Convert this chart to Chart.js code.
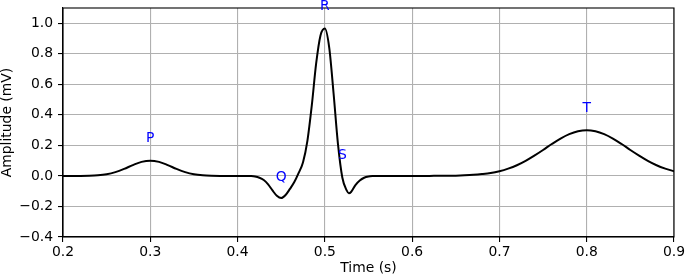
<!DOCTYPE html>
<html lang="en">
<head>
    <meta charset="UTF-8">
    <title>ECG Waveform</title>
    <style>
        html, body { margin: 0; padding: 0; background: #ffffff; }
        #ecgChart { display: block; }
    </style>
</head>
<body>
    <canvas id="ecgChart" width="685" height="278"></canvas>

    <script src="https://cdn.jsdelivr.net/npm/chart.js"></script>
    <script>
        // Time samples (s) and amplitude (mV)
        const times = [
            0.20, 0.21, 0.22, 0.23, 0.24, 0.25, 0.26, 0.27, 0.28, 0.29,
            0.30, 0.31, 0.32, 0.33, 0.34, 0.35, 0.36, 0.37, 0.38, 0.39,
            0.40, 0.41, 0.415, 0.42, 0.425, 0.43, 0.435, 0.44, 0.445, 0.45,
            0.455, 0.46, 0.465, 0.47, 0.475, 0.48, 0.485, 0.49, 0.495, 0.50,
            0.505, 0.51, 0.515, 0.52, 0.525, 0.5275, 0.53, 0.535, 0.54, 0.545,
            0.55, 0.555, 0.56, 0.57, 0.58, 0.59, 0.60, 0.61, 0.62, 0.63,
            0.64, 0.65, 0.66, 0.67, 0.68, 0.69, 0.70, 0.71, 0.72, 0.73,
            0.74, 0.75, 0.76, 0.77, 0.78, 0.79, 0.80, 0.81, 0.82, 0.83,
            0.84, 0.85, 0.86, 0.87, 0.88, 0.89, 0.90
        ];
        const amplitude = [
            0.000, 0.000, 0.000, 0.001, 0.004, 0.011, 0.025, 0.046, 0.071, 0.092,
            0.100, 0.092, 0.071, 0.046, 0.025, 0.011, 0.004, 0.001, 0.000, 0.000,
            0.000, 0.000, -0.001, -0.004, -0.012, -0.027, -0.055, -0.095, -0.130, -0.145,
            -0.125, -0.085, -0.040, 0.020, 0.090, 0.230, 0.460, 0.735, 0.920, 0.965,
            0.840, 0.540, 0.210, -0.010, -0.095, -0.113, -0.105, -0.060, -0.030, -0.012,
            -0.004, -0.001, 0.000, 0.000, 0.000, 0.000, 0.000, 0.000, 0.000, 0.001,
            0.001, 0.002, 0.004, 0.007, 0.012, 0.019, 0.031, 0.048, 0.070, 0.099,
            0.133, 0.170, 0.209, 0.245, 0.274, 0.293, 0.300, 0.293, 0.274, 0.245,
            0.209, 0.170, 0.133, 0.099, 0.070, 0.048, 0.031
        ];

        // Wave annotations
        const waveNames = ['P', 'Q', 'R', 'S', 'T'];
        const waveTimes = [0.30, 0.45, 0.50, 0.52, 0.80];
        const waveLabelAmps = [0.20, -0.05, 1.07, 0.09, 0.40];

        // Axis ticks
        const xTicks = [0.2, 0.3, 0.4, 0.5, 0.6, 0.7, 0.8, 0.9];
        const yTicks = [-0.4, -0.2, 0.0, 0.2, 0.4, 0.6, 0.8, 1.0];

        const fontFamily = '"DejaVu Sans", sans-serif';
        const fontSize = 13.9;

        const fmt = v => v.toFixed(1).replace('-', '\u2212');

        // keep the plot box where the layout padding puts it
        const noScalePadding = s => {
            s.paddingTop = 0;
            s.paddingBottom = 0;
            s.paddingLeft = 0;
            s.paddingRight = 0;
        };

        // frame on all four sides + wave letters
        const annotate = {
            id: 'annotate',
            afterDraw(chart) {
                const ctx = chart.ctx;
                const a = chart.chartArea;
                const xs = chart.scales.x, ys = chart.scales.y;
                ctx.save();
                ctx.strokeStyle = '#000000';
                ctx.lineWidth = 1.1;
                ctx.strokeRect(a.left, a.top, a.right - a.left, a.bottom - a.top);

                ctx.fillStyle = '#0000ff';
                ctx.font = fontSize + 'px ' + fontFamily;
                ctx.textAlign = 'center';
                ctx.textBaseline = 'alphabetic';
                waveNames.forEach((name, i) => {
                    ctx.fillText(name, xs.getPixelForValue(waveTimes[i]), ys.getPixelForValue(waveLabelAmps[i]) - 3);
                });
                ctx.restore();
            }
        };

        new Chart(document.getElementById('ecgChart').getContext('2d'), {
            type: 'line',
            data: {
                datasets: [{
                    data: times.map((t, i) => ({ x: t, y: amplitude[i] })),
                    borderColor: '#000000',
                    borderWidth: 2,
                    pointRadius: 0,
                    fill: false,
                    cubicInterpolationMode: 'monotone'
                }]
            },
            options: {
                responsive: false,
                animation: false,
                devicePixelRatio: 1,
                layout: { padding: { left: 0, right: 11, top: 8, bottom: 0 } },
                plugins: {
                    legend: { display: false },
                    tooltip: { enabled: false }
                },
                scales: {
                    x: {
                        type: 'linear',
                        min: 0.2,
                        max: 0.9,
                        afterBuildTicks: s => { s.ticks = xTicks.map(v => ({ value: v })); },
                        afterFit: s => { s.height = 41; noScalePadding(s); },
                        grid: { color: '#b0b0b0', lineWidth: 1.1, tickColor: '#000000', tickLength: 5 },
                        border: { color: '#000000', width: 1.1 },
                        ticks: {
                            color: '#000000',
                            font: { family: fontFamily, size: fontSize },
                            padding: 2,
                            maxRotation: 0,
                            callback: v => fmt(v)
                        },
                        title: {
                            display: true,
                            text: 'Time (s)',
                            color: '#000000',
                            font: { family: fontFamily, size: fontSize, lineHeight: 1.1 },
                            padding: { top: 0, bottom: 2 }
                        }
                    },
                    y: {
                        type: 'linear',
                        min: -0.4,
                        max: 1.1,
                        afterBuildTicks: s => { s.ticks = yTicks.map(v => ({ value: v })); },
                        afterFit: s => { s.width = 63; noScalePadding(s); },
                        grid: { color: '#b0b0b0', lineWidth: 1.1, tickColor: '#000000', tickLength: 5 },
                        border: { color: '#000000', width: 1.1 },
                        ticks: {
                            color: '#000000',
                            font: { family: fontFamily, size: fontSize },
                            padding: 5,
                            callback: v => fmt(v)
                        },
                        title: {
                            display: true,
                            text: 'Amplitude (mV)',
                            color: '#000000',
                            font: { family: fontFamily, size: fontSize, lineHeight: 1.1 },
                            padding: { top: 0, bottom: 0 }
                        }
                    }
                }
            },
            plugins: [annotate]
        });
    </script>
</body>
</html>
